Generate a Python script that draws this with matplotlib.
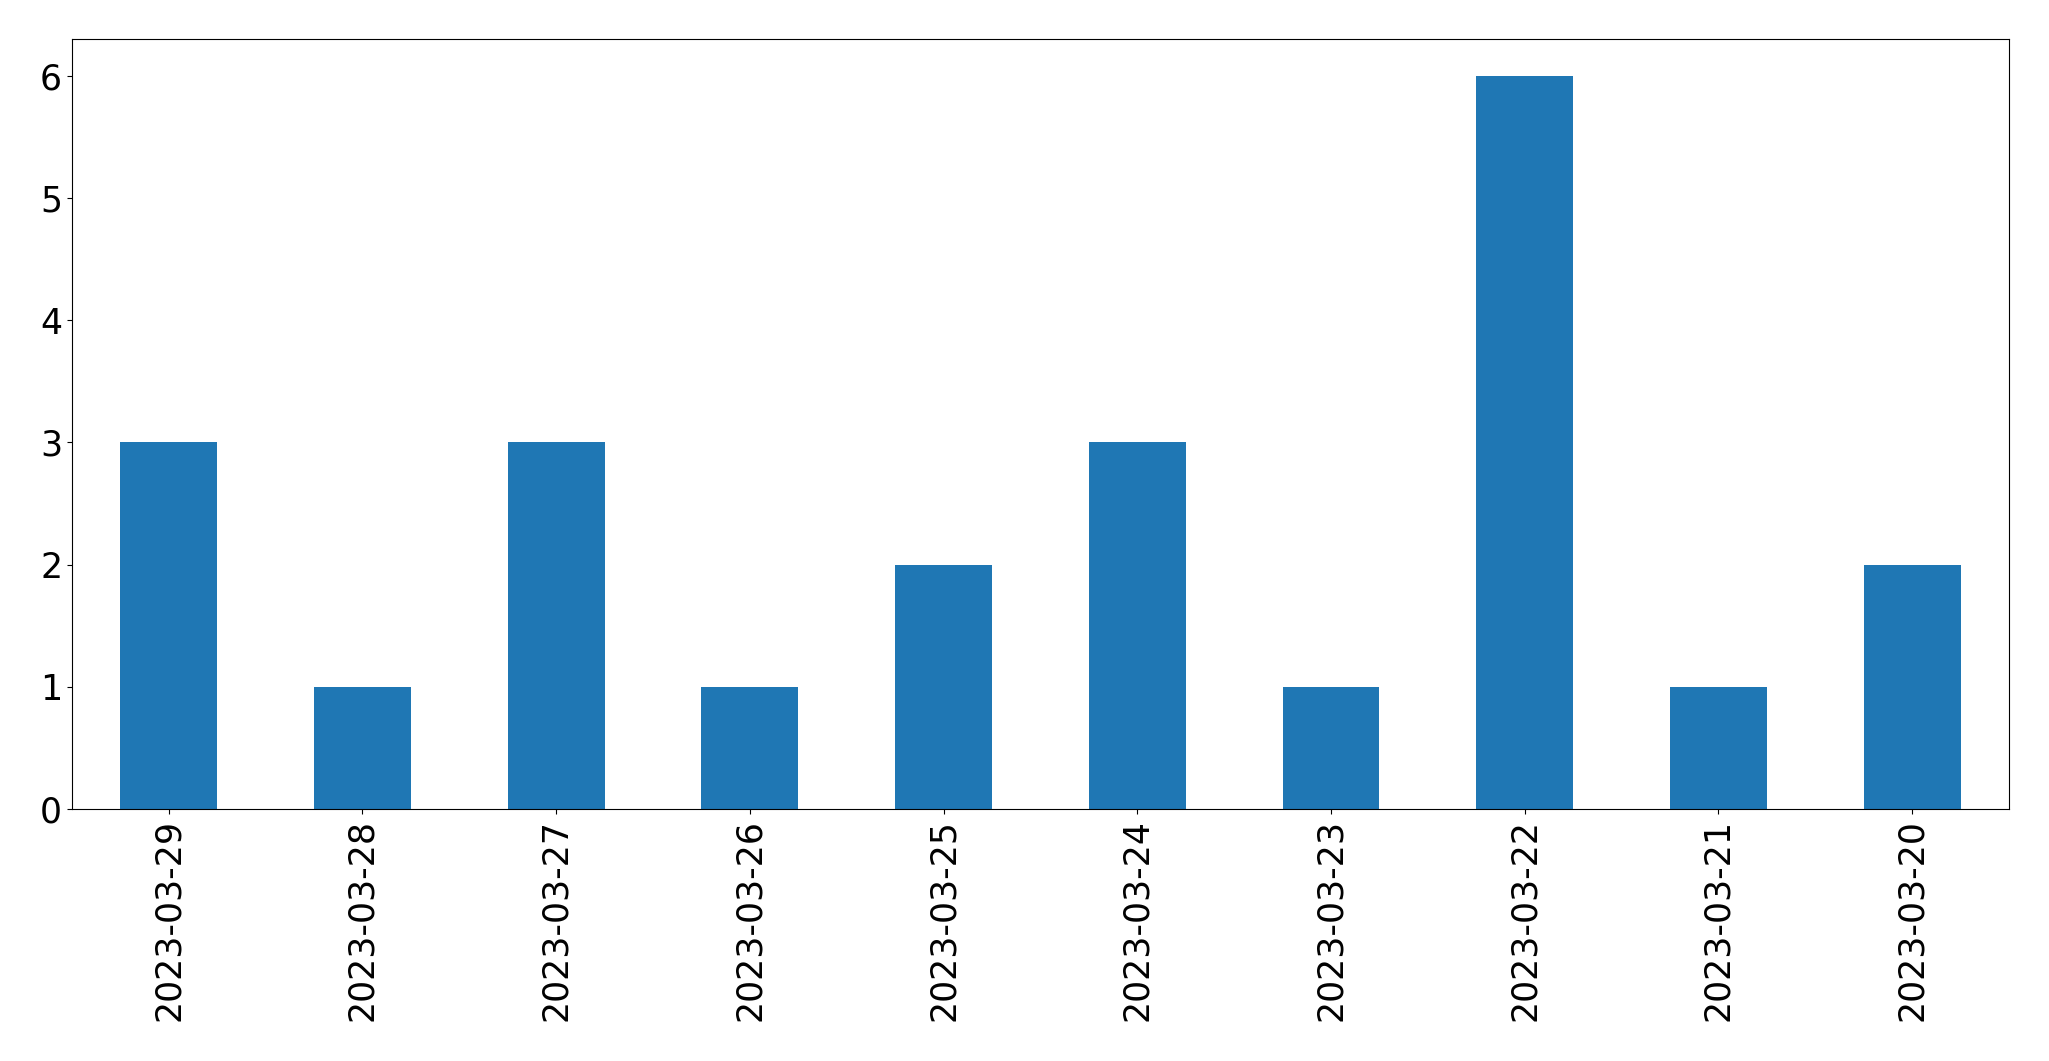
import matplotlib
matplotlib.use("Agg")
import matplotlib.pyplot as plt
import pandas as pd

dates = ['2023-03-29', '2023-03-28', '2023-03-27', '2023-03-26', '2023-03-25',
         '2023-03-24', '2023-03-23', '2023-03-22', '2023-03-21', '2023-03-20']
counts = [3, 1, 3, 1, 2, 3, 1, 6, 1, 2]

s = pd.Series(counts, index=dates)

fig = plt.figure(figsize=(20.49, 10.61), dpi=100)
ax = fig.add_axes([0.0351, 0.2375, 0.9454, 0.7257])
s.plot(kind='bar', ax=ax, fontsize=25)
fig.savefig('out.png', dpi=100)
